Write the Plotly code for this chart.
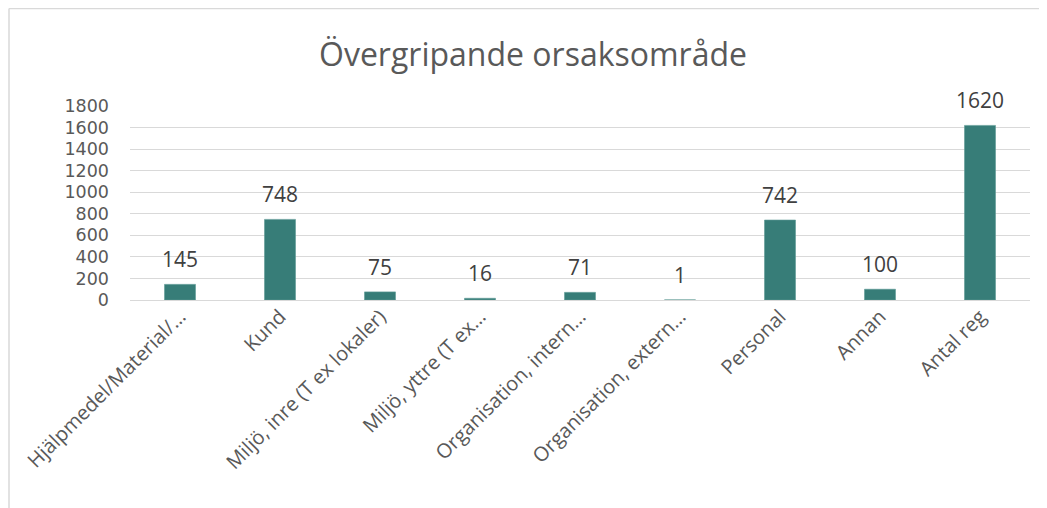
import plotly.graph_objects as go

categories = [
    "Hjälpmedel/Material/…",
    "Kund",
    "Miljö, inre (T ex lokaler)",
    "Miljö, yttre (T ex…",
    "Organisation, intern…",
    "Organisation, extern…",
    "Personal",
    "Annan",
    "Antal reg",
]
values = [145, 748, 75, 16, 71, 1, 742, 100, 1620]
y_ticks = [0, 200, 400, 600, 800, 1000, 1200, 1400, 1600, 1800]

FONT = "Open Sans"
BAR = "#377D78"
GRID = "#D9D9D9"
TXT = "#595959"

# page body has an 8px margin; the figure is laid out in that frame
OFF = 8
W, H = 1047 - OFF, 508 - OFF
L, T = 130 - OFF, 106 - OFF
PW, PH = 900, 194

fig = go.Figure(
    go.Bar(
        x=categories,
        y=values,
        width=0.31,
        marker=dict(color=BAR, line=dict(color="#5E9A96", width=0.6)),
        hoverinfo="x+y",
    )
)

annotations = [
    dict(x=c, y=v, xref="x", yref="y", text=str(v), showarrow=False,
         yanchor="bottom", xanchor="center", yshift=9,
         font=dict(family=FONT, size=21, color="#404040"))
    for c, v in zip(categories, values)
]

fig.update_layout(
    width=W,
    height=H,
    margin=dict(l=L, r=W - L - PW, t=T, b=H - T - PH, autoexpand=False),
    paper_bgcolor="white",
    plot_bgcolor="white",
    showlegend=False,
    title=dict(
        text="Övergripande orsaksområde",
        x=(533 - OFF) / W,
        xanchor="center",
        y=1 - (55 - OFF) / H,
        yanchor="middle",
        font=dict(family=FONT, size=32, color="#595959"),
    ),
    xaxis=dict(
        tickangle=-45,
        tickfont=dict(family=FONT, size=20, color=TXT),
        showgrid=False,
        showline=False,
        ticks="",
        automargin=False,
    ),
    yaxis=dict(
        range=[0, 1800],
        tickvals=y_ticks,
        ticktext=[str(t) for t in y_ticks],
        tickfont=dict(family="DejaVu Sans", size=17.5, color=TXT),
        showgrid=True,
        gridcolor=GRID,
        gridwidth=1,
        zeroline=True,
        zerolinecolor=GRID,
        zerolinewidth=1,
        showline=False,
        ticks="",
        ticklabelstandoff=20,
        automargin=False,
    ),
    annotations=annotations,
    shapes=[
        dict(type="line", xref="paper", yref="paper",
             x0=(1 - L) / PW, x1=(W - L) / PW,
             y0=(T - 0.5) / PH + 1, y1=(T - 0.5) / PH + 1,
             line=dict(color=GRID, width=1.5)),
        dict(type="line", xref="paper", yref="paper",
             x0=(1 - L) / PW, x1=(1 - L) / PW,
             y0=(T - 0.5) / PH + 1, y1=-(H - T - PH + 2) / PH,
             line=dict(color=GRID, width=1.5)),
    ],
)

fig.write_html("out.html")
